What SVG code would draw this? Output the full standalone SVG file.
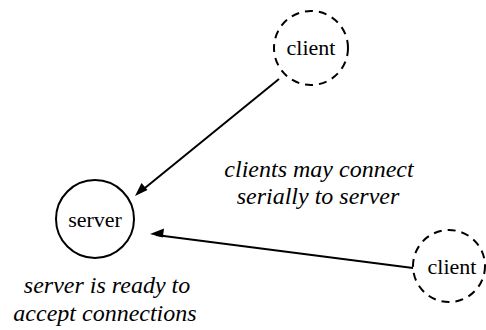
<svg xmlns="http://www.w3.org/2000/svg" width="486" height="330" viewBox="0 0 486 330">
<rect width="486" height="330" fill="#fff"/>
<g id="connectors" stroke="#000" stroke-width="2">
<line x1="279" y1="79" x2="140" y2="192"/>
<path d="M135,196 l6.5,-13 l6,7 z" fill="#000" stroke="none"/>
<line x1="413" y1="268" x2="156" y2="235"/>
<path d="M150,234 l14,-5.5 l-1.2,9 z" fill="#000" stroke="none"/>
</g>
<g id="server" style="font-family:'Liberation Serif',serif !important">
<circle cx="95" cy="219" r="39" fill="none" stroke="#000" stroke-width="2"/>
<text x="95" y="227" font-size="22" text-anchor="middle" style="font-family:'Liberation Serif',serif !important">server</text>
</g>
<g id="client1" style="font-family:'Liberation Serif',serif !important">
<circle cx="311" cy="48" r="37" fill="none" stroke="#000" stroke-width="2" stroke-dasharray="8,6"/>
<text x="311" y="55" font-size="22" text-anchor="middle" style="font-family:'Liberation Serif',serif !important">client</text>
</g>
<g id="client2" style="font-family:'Liberation Serif',serif !important">
<circle cx="449" cy="266" r="36" fill="none" stroke="#000" stroke-width="2" stroke-dasharray="8,6"/>
<text x="452" y="274" font-size="22" text-anchor="middle" style="font-family:'Liberation Serif',serif !important">client</text>
</g>
<g id="notes" style="font-family:'Liberation Serif',serif !important">
<text x="319" y="177" font-size="24" text-anchor="middle" style="font-family:'Liberation Serif',serif !important;font-style:italic">clients may connect</text>
<text x="318" y="204" font-size="24" text-anchor="middle" style="font-family:'Liberation Serif',serif !important;font-style:italic">serially to server</text>
<text x="107" y="293" font-size="24" text-anchor="middle" style="font-family:'Liberation Serif',serif !important;font-style:italic">server is ready to</text>
<text x="105" y="321" font-size="24" text-anchor="middle" style="font-family:'Liberation Serif',serif !important;font-style:italic">accept connections</text>
</g>
</svg>
